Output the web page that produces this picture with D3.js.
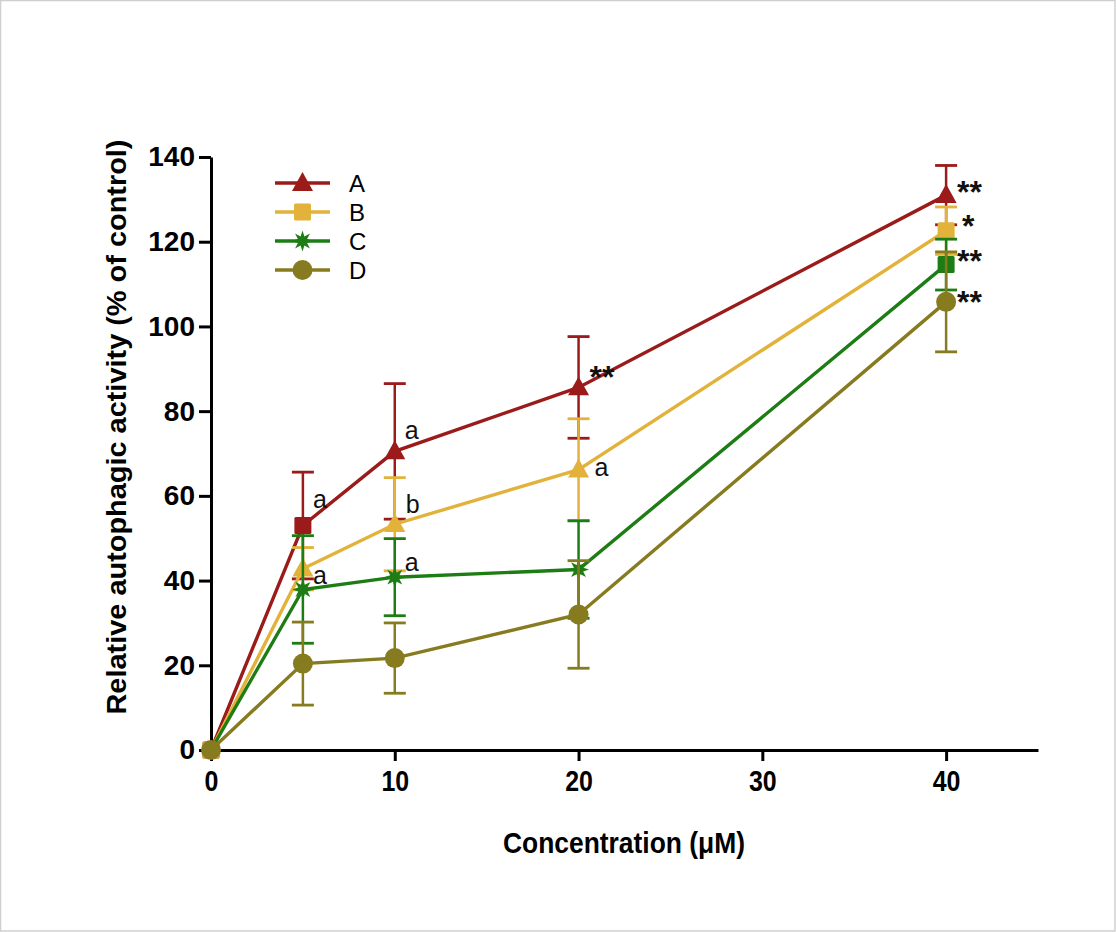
<!DOCTYPE html>
<html>
<head>
<meta charset="utf-8">
<script src="https://cdn.jsdelivr.net/npm/d3@7"></script>
<style>
  html, body { margin: 0; padding: 0; background: #fff; }
  svg { display: block; }
</style>
</head>
<body>
<div id="chart"></div>
<script>
// --- data ---
const concentrations = [0, 5, 10, 20, 40];
const seriesNames = ["A", "B", "C", "D"];
const valuesA = [0, 53, 70.5, 85.6, 131];
const valuesB = [0, 42.8, 53.3, 66.2, 122.6];
const valuesC = [0, 37.9, 40.8, 42.6, 114.6];
const valuesD = [0, 20.4, 21.7, 32, 105.8];
const errorsA = [0, 12.6, 16, 12, 7];
const errorsB = [0, 5, 11, 12, 5.6];
const errorsC = [0, 12.7, 9.1, 11.5, 6];
const errorsD = [0, 9.8, 8.3, 12.7, 11.8];
const marksA = ["", "a", "a", "**", "**"];
const marksB = ["", "", "b", "a", "*"];
const marksC = ["", "a", "a", "", "**"];
const marksD = ["", "", "", "", "**"];
const xTicks = [0, 10, 20, 30, 40];
const yTicks = [0, 20, 40, 60, 80, 100, 120, 140];

// --- style ---
const colors = ["#9b1a1a", "#e2b23a", "#1d7d14", "#877b20"];
const legendShapes = ["triangle", "square", "star", "circle"];
// the figure mixes marker shapes point by point
const pointShapes = [
  ["square", "square", "triangle", "triangle", "triangle"],
  ["square", "triangle", "triangle", "triangle", "square"],
  ["star", "star", "star", "star", "square"],
  ["circle", "circle", "circle", "circle", "circle"]
];
// label offsets (px) from the point, per series per point (centre of the glyphs)
const markOffsets = [
  [null, [10, -24], [10, -19], [11, -19], [11, -11]],
  [null, null, [11, -18], [16, 0], [16, -13]],
  [null, [10, -12], [10, -13], null, [11, -12]],
  [null, null, null, null, [11, -8]]
];

const series = [
  { name: seriesNames[0], values: valuesA, errors: errorsA, marks: marksA },
  { name: seriesNames[1], values: valuesB, errors: errorsB, marks: marksB },
  { name: seriesNames[2], values: valuesC, errors: errorsC, marks: marksC },
  { name: seriesNames[3], values: valuesD, errors: errorsD, marks: marksD }
];

const W = 1116, H = 932;
const fontMain = "'Liberation Sans', Arial, Helvetica, sans-serif";

const svg = d3.select("#chart").append("svg")
  .attr("width", W).attr("height", H);

svg.append("rect")
  .attr("x", 0.5).attr("y", 0.5)
  .attr("width", W - 1.5).attr("height", H - 1.5)
  .attr("fill", "#fff").attr("stroke", "#cfcfcf").attr("stroke-width", 1.5);

const x = d3.scaleLinear().domain([0, 45]).range([211, 1038]);
const y = d3.scaleLinear().domain([0, 140]).range([750, 157]);

// マーカー形状
function drawShape(g, shape, cx, cy, color) {
  if (shape === "triangle") {
    const s = 10.5;
    g.append("path")
      .attr("d", `M ${cx} ${cy - s * 1.05} L ${cx + s} ${cy + s * 0.75} L ${cx - s} ${cy + s * 0.75} Z`)
      .attr("fill", color);
  } else if (shape === "square") {
    const s = 8.5;
    g.append("rect")
      .attr("x", cx - s).attr("y", cy - s)
      .attr("width", 2 * s).attr("height", 2 * s)
      .attr("rx", 1.5)
      .attr("fill", color);
  } else if (shape === "circle") {
    g.append("circle").attr("cx", cx).attr("cy", cy).attr("r", 10).attr("fill", color);
  } else if (shape === "star") {
    const pts = [];
    const n = 8, ro = 10.5, ri = 5;
    for (let i = 0; i < n * 2; i++) {
      const r = i % 2 === 0 ? ro : ri;
      const a = Math.PI * i / n - Math.PI / 2;
      pts.push([cx + r * Math.cos(a), cy + r * Math.sin(a)]);
    }
    g.append("path").attr("d", "M" + pts.map(p => p.join(" ")).join(" L ") + " Z").attr("fill", color);
  }
}

// --- axes ---
const yAxis = svg.append("g")
  .attr("transform", `translate(${x(0)},0)`)
  .call(d3.axisLeft(y).tickValues(yTicks).tickSize(12).tickPadding(4).tickSizeOuter(0));
yAxis.select(".domain").attr("stroke", "#000").attr("stroke-width", 3);
yAxis.selectAll(".tick line").attr("stroke", "#000").attr("stroke-width", 3);
yAxis.selectAll(".tick text")
  .attr("fill", "#000")
  .style("font-family", fontMain)
  .style("font-weight", "bold")
  .style("font-size", "28px");

const xAxis = svg.append("g")
  .attr("transform", `translate(0,${y(0)})`)
  .call(d3.axisBottom(x).tickValues(xTicks).tickSize(11).tickPadding(9).tickSizeOuter(0));
xAxis.select(".domain").attr("stroke", "#000").attr("stroke-width", 3);
xAxis.selectAll(".tick line").attr("stroke", "#000").attr("stroke-width", 3);
xAxis.selectAll(".tick text")
  .attr("fill", "#000")
  .style("font-family", fontMain)
  .style("font-weight", "bold")
  .style("font-size", "29px")
  .attr("transform", "scale(0.86,1)");

svg.append("text")
  .attr("x", 624).attr("y", 853)
  .attr("text-anchor", "middle")
  .style("font-family", fontMain)
  .style("font-weight", "bold")
  .style("font-size", "30px")
  .attr("textLength", 242)
  .attr("lengthAdjust", "spacingAndGlyphs")
  .text("Concentration (μM)");

svg.append("text")
  .attr("transform", "translate(126,427) rotate(-90)")
  .attr("text-anchor", "middle")
  .style("font-family", fontMain)
  .style("font-weight", "bold")
  .style("font-size", "27px")
  .attr("textLength", 575)
  .attr("lengthAdjust", "spacingAndGlyphs")
  .text("Relative autophagic activity (% of control)");

// --- series ---
const line = d3.line().x(d => x(d[0])).y(d => y(d[1]));
const plot = svg.append("g");

series.forEach((s, si) => {
  const color = colors[si];
  const g = plot.append("g");
  // error bars
  concentrations.forEach((c, i) => {
    const e = s.errors[i];
    if (!e) return;
    const cx = x(c);
    g.append("line")
      .attr("x1", cx).attr("x2", cx)
      .attr("y1", y(s.values[i] - e)).attr("y2", y(s.values[i] + e))
      .attr("stroke", color).attr("stroke-width", 2.5);
    [s.values[i] - e, s.values[i] + e].forEach(v => {
      g.append("line")
        .attr("x1", cx - 11).attr("x2", cx + 11)
        .attr("y1", y(v)).attr("y2", y(v))
        .attr("stroke", color).attr("stroke-width", 2.8);
    });
  });
  g.append("path")
    .datum(concentrations.map((c, i) => [c, s.values[i]]))
    .attr("d", line)
    .attr("fill", "none")
    .attr("stroke", color)
    .attr("stroke-width", 3.4);
  concentrations.forEach((c, i) => {
    drawShape(g, pointShapes[si][i], x(c), y(s.values[i]), color);
  });
});

// significance marks
series.forEach((s, si) => {
  s.marks.forEach((m, i) => {
    if (!m) return;
    const off = markOffsets[si][i] || [10, -12];
    const stars = m.indexOf("*") >= 0;
    const fs = stars ? 32 : 25;
    svg.append("text")
      .attr("x", x(concentrations[i]) + off[0])
      .attr("y", y(s.values[i]) + off[1])
      .attr("dy", stars ? (0.6 * fs) + "px" : (0.26 * fs) + "px")
      .style("font-family", fontMain)
      .style("font-weight", stars ? "bold" : "normal")
      .style("font-size", fs + "px")
      .attr("fill", "#111")
      .text(m);
  });
});

// --- legend ---
const legend = svg.append("g");
seriesNames.forEach((n, i) => {
  const ly = 183 + i * 29;
  legend.append("line")
    .attr("x1", 275).attr("x2", 330)
    .attr("y1", ly).attr("y2", ly)
    .attr("stroke", colors[i]).attr("stroke-width", 3.4);
  drawShape(legend, legendShapes[i], 302.5, ly, colors[i]);
  legend.append("text")
    .attr("x", 349).attr("y", ly)
    .attr("dy", "0.36em")
    .style("font-family", fontMain)
    .style("font-size", "24px")
    .attr("fill", "#000")
    .text(n);
});
</script>
</body>
</html>
